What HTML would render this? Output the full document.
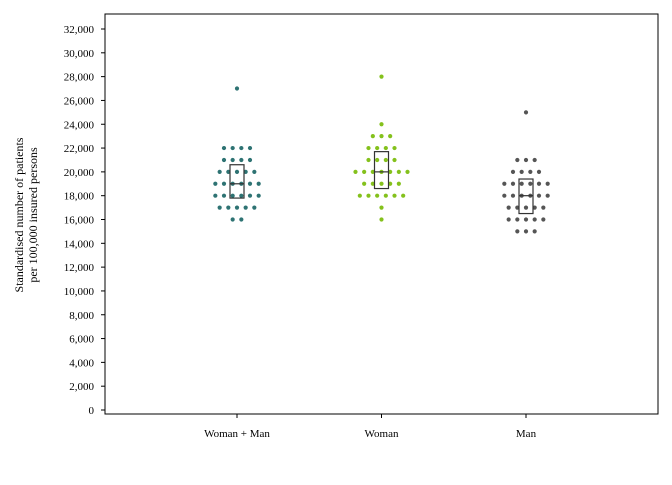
<!DOCTYPE html>
<html><head><meta charset="utf-8"><style>
body{margin:0;background:#fff;}
svg text{font-family:"Liberation Serif",serif;font-size:11px;fill:#000;}
</style></head><body>
<svg id="chart" width="672" height="480">
<rect x="105" y="14" width="553" height="400" fill="none" stroke="#000"/>
<text transform="translate(23,215) rotate(-90)" text-anchor="middle" style="font-size:12px"><tspan x="0" dy="0">Standardised number of patients</tspan><tspan x="0" dy="14">per 100,000 insured persons</tspan></text>
</svg>
<script>
const categories=["Woman + Man","Woman","Man"];
const colors=["#2e7373","#84c11c","#555555"];
// dot counts per value (thousands)
const valuesWM=[[27,1],[22,4],[21,4],[20,5],[19,6],[18,6],[17,5],[16,2]];
const valuesW=[[28,1],[24,1],[23,3],[22,4],[21,4],[20,7],[19,5],[18,6],[17,1],[16,1]];
const valuesM=[[25,1],[21,3],[20,4],[19,6],[18,6],[17,5],[16,5],[15,3]];
const boxQ1=[17800,18600,16500];
const boxMed=[19000,20000,18000];
const boxQ3=[20600,21700,19400];
const yTicks=[0,2000,4000,6000,8000,10000,12000,14000,16000,18000,20000,22000,24000,26000,28000,30000,32000];
const svg=document.getElementById('chart');
const NS='http://www.w3.org/2000/svg';
const yS=v=>410-v*(381/32000);
const xS=i=>237+i*144.5;
function mk(t,a){const e=document.createElementNS(NS,t);for(const k in a)e.setAttribute(k,a[k]);svg.appendChild(e);return e;}
yTicks.forEach(v=>{
 const l=mk('line',{x1:101,x2:105,y1:yS(v),y2:yS(v),stroke:'#000'});
 
 
 const t=mk('text',{x:94,y:yS(v)+4,'text-anchor':'end'});
 t.textContent=v.toLocaleString('en-US');
 
 
});
categories.forEach((c,i)=>{
 const l=mk('line',{x1:xS(i),x2:xS(i),y1:414,y2:418,stroke:'#000'});
 
 
 const t=mk('text',{x:xS(i),y:437,'text-anchor':'middle'});
 t.textContent=c;
 
 
});
[valuesWM,valuesW,valuesM].forEach((series,i)=>{
 series.forEach(([v,n])=>{
  for(let k=0;k<n;k++){
   const cx=xS(i)+(k-(n-1)/2)*8.67;
   const d=mk('circle',{cx:cx,cy:yS(v*1000),r:2.1,fill:colors[i]});
   
   
  }
 });
 const b=mk('rect',{x:xS(i)-7,y:yS(boxQ3[i]),width:14,height:yS(boxQ1[i])-yS(boxQ3[i]),fill:'none',stroke:'#333','stroke-width':1.2});
 
 
 const m=mk('line',{x1:xS(i)-7,x2:xS(i)+7,y1:yS(boxMed[i]),y2:yS(boxMed[i]),stroke:'#333','stroke-width':1.2});
 
 
});
</script>
</body></html>
